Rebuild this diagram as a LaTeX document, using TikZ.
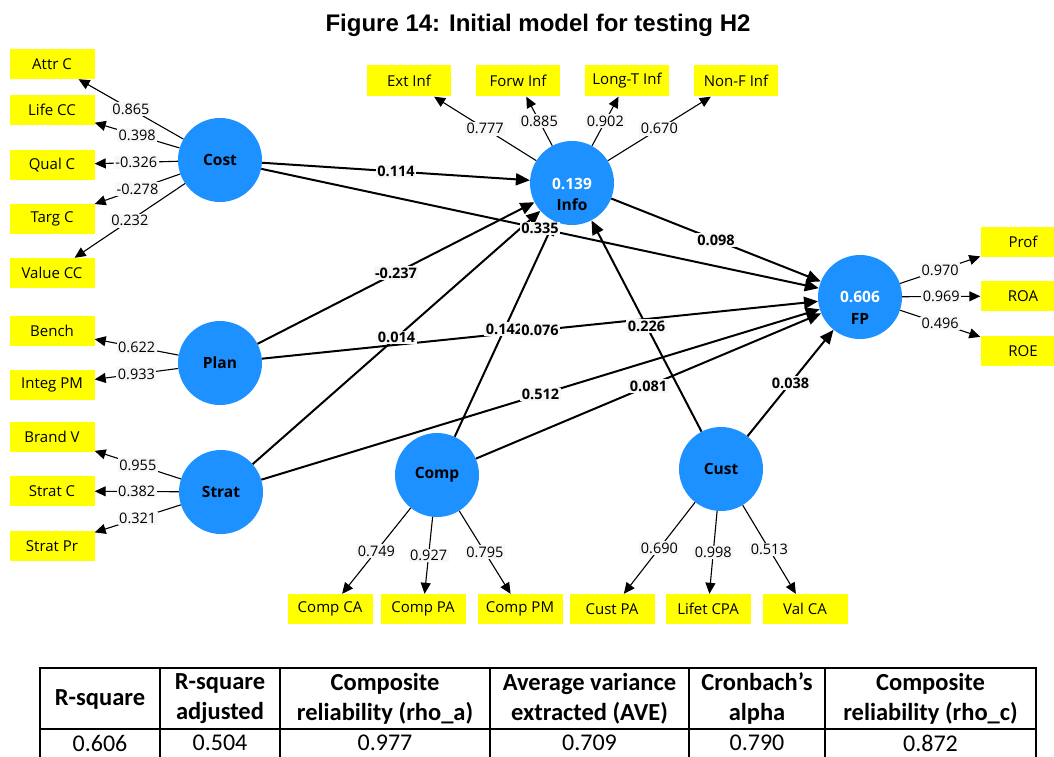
\documentclass[tikz,border=0pt]{standalone}
\usepackage{fontspec}
\setmainfont{Open Sans}
\newfontfamily\titlefont{Liberation Sans}
\newfontfamily\tablefont{Carlito}
\usetikzlibrary{arrows.meta}
\definecolor{lvblue}{RGB}{28,145,255}
\definecolor{indyellow}{RGB}{255,255,0}
\definecolor{lblbg}{RGB}{247,247,247}
\begin{document}
\begin{tikzpicture}[x=1pt,y=-1pt,
  lv/.style={circle, fill=lvblue, minimum size=84pt, inner sep=0pt, font=\bfseries\fontsize{15.5}{18}\selectfont},
  lvtext/.style={inner sep=0pt, font=\bfseries\fontsize{15.5}{18}\selectfont},
  ind/.style={rectangle, fill=indyellow, minimum width=85pt, minimum height=30pt, inner sep=0pt, font=\fontsize{15}{18}\selectfont},
  loadline/.style={line width=1.1pt, -{Triangle[length=11pt,width=10pt]}},
  pathline/.style={line width=2pt, -{Triangle[length=14pt,width=12pt]}},
  loadlbl/.style={fill=lblbg, inner sep=1.5pt, font=\fontsize{14.5}{17}\selectfont},
  pathlbl/.style={fill=lblbg, inner sep=1.5pt, font=\bfseries\fontsize{14.5}{17}\selectfont},
  tblhead/.style={align=center, inner sep=0pt, font=\tablefont\bfseries\fontsize{24.5}{30}\selectfont},
  tblcell/.style={inner sep=0pt, font=\tablefont\fontsize{24}{29}\selectfont},
  tblrule/.style={line width=1.6pt},
]
\useasboundingbox (0,0) rectangle (1054,757);

% title
\node[anchor=base, font=\titlefont\bfseries\fontsize{24}{28}\selectfont] (title) at (538,32) {Figure 14: Initial model for testing H2};

% latent variables
\node[lv] (cost)  at (220,160) {Cost};
\node[lv] (info)  at (572,183) {};
\node[lvtext, text=white] (infoval) at (572,184) {0.139};
\node[lvtext] (infoname) at (572,205) {Info};
\node[lv] (plan)  at (220,363) {Plan};
\node[lv] (strat) at (221,492) {Strat};
\node[lv] (comp)  at (437,475) {Comp};
\node[lv] (cust)  at (721,469) {Cust};
\node[lv] (fp)    at (860,297) {};
\node[lvtext, text=white] (fpval) at (860,297) {0.606};
\node[lvtext] (fpname) at (860,319) {FP};

% indicators, left column
\node[ind] (attrc)   at (52,64)  {Attr C};
\node[ind] (lifecc)  at (52,110) {Life CC};
\node[ind] (qualc)   at (52,165) {Qual C};
\node[ind] (targc)   at (52,219) {Targ C};
\node[ind] (valuecc) at (52,273) {Value CC};
\node[ind] (bench)   at (52,331) {Bench};
\node[ind] (integpm) at (52,385) {Integ PM};
\node[ind] (brandv)  at (52,437) {Brand V};
\node[ind] (stratc)  at (52,491) {Strat C};
\node[ind] (stratpr) at (52,546) {Strat Pr};
% indicators, top row
\node[ind, minimum width=84pt, minimum height=31pt] (extinf)   at (409,81) {Ext Inf};
\node[ind, minimum width=84pt, minimum height=31pt] (forwinf)  at (518,81) {Forw Inf};
\node[ind, minimum width=84pt, minimum height=31pt] (longtinf) at (627,81) {Long-T Inf};
\node[ind, minimum width=84pt, minimum height=31pt] (nonfinf)  at (736,81) {Non-F Inf};
% indicators, right column
\node[ind] (prof) at (1023,242) {Prof};
\node[ind] (roa)  at (1023,296) {ROA};
\node[ind] (roe)  at (1023,351) {ROE};
% indicators, bottom row
\node[ind] (compca)   at (330,609) {Comp CA};
\node[ind] (comppa)   at (423,609) {Comp PA};
\node[ind] (comppm)   at (520,609) {Comp PM};
\node[ind] (custpa)   at (612,609) {Cust PA};
\node[ind] (lifetcpa) at (708,609) {Lifet CPA};
\node[ind] (valca)    at (805,609) {Val CA};

% outer loadings
\foreach \a/\b/\v in {cost/attrc/0.865, cost/lifecc/0.398, cost/qualc/-0.326, cost/targc/-0.278, cost/valuecc/0.232,
  plan/bench/0.622, plan/integpm/0.933,
  strat/brandv/0.955, strat/stratc/0.382, strat/stratpr/0.321,
  info/extinf/0.777, info/forwinf/0.885, info/longtinf/0.902, info/nonfinf/0.670,
  fp/prof/0.970, fp/roa/0.969, fp/roe/0.496,
  comp/compca/0.749, comp/comppa/0.927, comp/comppm/0.795,
  cust/custpa/0.690, cust/lifetcpa/0.998, cust/valca/0.513}
  \draw[loadline] (\a) -- (\b) node[midway, loadlbl] {\v};

% structural paths: lines first, coefficients on top
\foreach \a/\b in {cost/info, cost/fp, info/fp, plan/info, strat/info, comp/info,
  plan/fp, strat/fp, comp/fp, cust/info, cust/fp}
  \draw[pathline] (\a) -- (\b);
\foreach \a/\b/\v in {cost/info/0.114, cost/fp/0.335, info/fp/0.098, plan/info/-0.237,
  strat/info/0.014, comp/info/0.142, plan/fp/0.076, strat/fp/0.512, comp/fp/0.081,
  cust/info/0.226, cust/fp/0.038}
  \path (\a) -- (\b) node[midway, pathlbl] {\v};

% quality criteria table
\draw[tblrule] (40,668) -- (1036,668);
\draw[tblrule] (40,729) -- (1036,729);
\foreach \x in {40,160,280,490,689,825,1036}
  \draw[tblrule] (\x,667.2) -- (\x,757);
\node[tblhead] (h1) at (100,699) {R-square};
\node[tblhead] (h2) at (220,699) {R-square\\adjusted};
\node[tblhead] (h3) at (385,699) {Composite\\reliability (rho\_a)};
\node[tblhead] (h4) at (589.5,699) {Average variance\\extracted (AVE)};
\node[tblhead] (h5) at (757,699) {Cronbach’s\\alpha};
\node[tblhead] (h6) at (930.5,699) {Composite\\reliability (rho\_c)};
\node[tblcell] (d1) at (100,743) {0.606};
\node[tblcell] (d2) at (220,743) {0.504};
\node[tblcell] (d3) at (385,743) {0.977};
\node[tblcell] (d4) at (589.5,743) {0.709};
\node[tblcell] (d5) at (757,743) {0.790};
\node[tblcell] (d6) at (930.5,743) {0.872};
\end{tikzpicture}
\end{document}
